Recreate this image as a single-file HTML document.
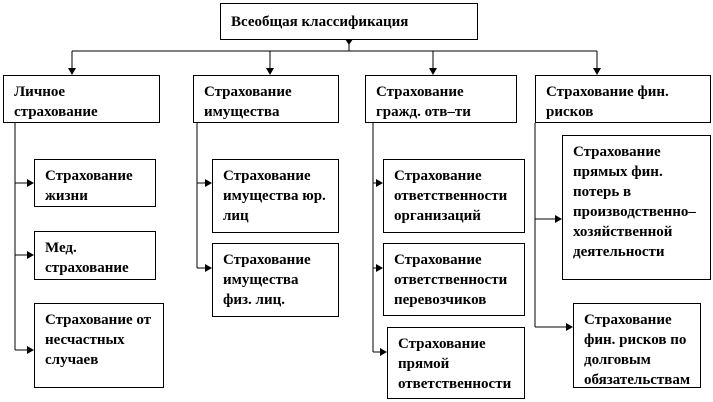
<!DOCTYPE html>
<html><head><meta charset="utf-8"><style>
html,body{margin:0;padding:0;background:#fff;}
body{width:713px;height:402px;position:relative;overflow:hidden;font-family:"Liberation Serif",serif;font-weight:bold;font-size:15px;line-height:20px;color:#000;}
.b{position:absolute;border:1px solid #000;box-sizing:border-box;padding:6px 0 0 10px;background:#fff;letter-spacing:0;white-space:nowrap;}
svg{position:absolute;left:0;top:0;}
</style></head><body>
<svg width="713" height="402">
<g stroke="#000" stroke-width="1" fill="none">
<line x1="349" y1="39" x2="349" y2="51"/>
<line x1="72" y1="51" x2="597" y2="51"/>
<line x1="72" y1="51" x2="72" y2="70"/>
<line x1="270" y1="51" x2="270" y2="70"/>
<line x1="433" y1="51" x2="433" y2="70"/>
<line x1="597" y1="51" x2="597" y2="70"/>
<line x1="15" y1="123" x2="15" y2="350"/>
<line x1="15" y1="183" x2="29" y2="183"/>
<line x1="15" y1="255" x2="29" y2="255"/>
<line x1="15" y1="350" x2="29" y2="350"/>
<line x1="197" y1="123" x2="197" y2="268"/>
<line x1="197" y1="183" x2="207" y2="183"/>
<line x1="197" y1="268" x2="207" y2="268"/>
<line x1="373" y1="123" x2="373" y2="352"/>
<line x1="373" y1="183" x2="378" y2="183"/>
<line x1="373" y1="268" x2="378" y2="268"/>
<line x1="373" y1="352" x2="382" y2="352"/>
<line x1="535" y1="123" x2="535" y2="327"/>
<line x1="535" y1="219" x2="557" y2="219"/>
<line x1="535" y1="327" x2="568" y2="327"/>
</g>
<g fill="#000">
<polygon points="349,45 345,39 353,39"/>
<polygon points="72,75 68,68 76,68"/>
<polygon points="270,75 266,68 274,68"/>
<polygon points="433,75 429,68 437,68"/>
<polygon points="597,75 593,68 601,68"/>
<polygon points="34,183 27,179 27,187"/>
<polygon points="34,255 27,251 27,259"/>
<polygon points="34,350 27,346 27,354"/>
<polygon points="212,183 205,179 205,187"/>
<polygon points="212,268 205,264 205,272"/>
<polygon points="383,183 376,179 376,187"/>
<polygon points="383,268 376,264 376,272"/>
<polygon points="387,352 380,348 380,356"/>
<polygon points="562,219 555,215 555,223"/>
<polygon points="573,327 566,323 566,331"/>
</g>
</svg>
<div class="b" style="left:220px;top:3px;width:258px;height:37px;padding-top:8px;">Всеобщая классификация</div>
<div class="b" style="left:3px;top:75px;width:157px;height:48px;">Личное<br>страхование</div>
<div class="b" style="left:193px;top:75px;width:146px;height:48px;">Страхование<br>имущества</div>
<div class="b" style="left:365px;top:75px;width:152px;height:48px;">Страхование<br>гражд. отв–ти</div>
<div class="b" style="left:535px;top:75px;width:176px;height:48px;">Страхование фин.<br>рисков</div>

<div class="b" style="left:34px;top:159px;width:122px;height:48px;">Страхование<br>жизни</div>
<div class="b" style="left:34px;top:231px;width:122px;height:49px;">Мед.<br>страхование</div>
<div class="b" style="left:34px;top:303px;width:130px;height:85px;">Страхование от<br>несчастных<br>случаев</div>

<div class="b" style="left:212px;top:159px;width:127px;height:74px;">Страхование<br>имущества юр.<br>лиц</div>
<div class="b" style="left:212px;top:243px;width:127px;height:74px;">Страхование<br>имущества<br>физ. лиц.</div>

<div class="b" style="left:383px;top:159px;width:142px;height:74px;">Страхование<br>ответственности<br>организаций</div>
<div class="b" style="left:383px;top:243px;width:142px;height:73px;">Страхование<br>ответственности<br>перевозчиков</div>
<div class="b" style="left:387px;top:327px;width:138px;height:72px;">Страхование<br>прямой<br>ответственности</div>

<div class="b" style="left:562px;top:135px;width:149px;height:145px;">Страхование<br>прямых фин.<br>потерь в<br>производственно–<br>хозяйственной<br>деятельности</div>
<div class="b" style="left:573px;top:303px;width:128px;height:85px;">Страхование<br>фин. рисков по<br>долговым<br>обязательствам</div>
</body></html>
